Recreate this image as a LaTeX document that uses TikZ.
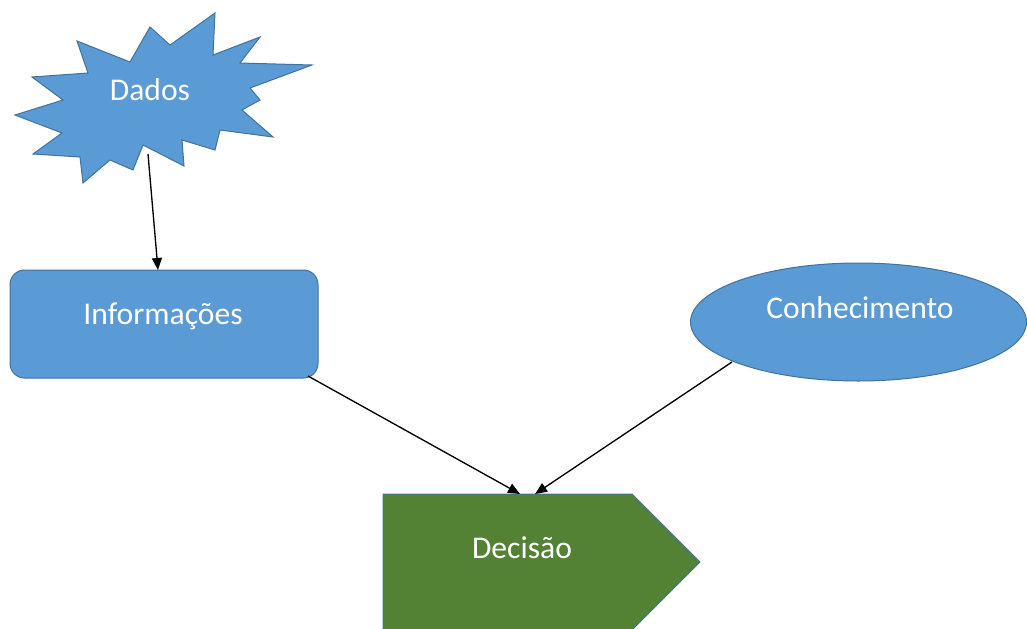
\documentclass[tikz,border=0pt]{standalone}
\usepackage{fontspec}
\setmainfont{Carlito}
\usetikzlibrary{arrows.meta,shapes.geometric}
\definecolor{fillblue}{HTML}{5B9BD5}
\definecolor{lineblue}{HTML}{41719C}
\definecolor{fillgreen}{HTML}{548235}
\tikzset{
  shapeblue/.style={fill=fillblue,draw=lineblue,line width=0.75pt},
  shapegreen/.style={fill=fillgreen,draw=lineblue,line width=0.75pt},
  label/.style={text=white,font=\fontsize{23.7}{28}\selectfont,anchor=base,inner sep=0pt},
  conn/.style={draw=black,line width=1pt,-{Triangle[length=9pt,width=7.5pt]}}
}
\begin{document}
\begin{tikzpicture}[x=0.75pt,y=-0.75pt]
\useasboundingbox (0,0) rectangle (1027,628);
% Dados star
\draw[shapeblue] (77,41) -- (130,62) -- (150,27) -- (170,45) -- (215,13) -- (213,55) -- (260,37) -- (240,63) -- (312,65) -- (250,88) -- (260,100) -- (242,110) -- (273,137) -- (220,130) -- (215,150) -- (182,140) -- (184,166) -- (143,145) -- (133,170) -- (110,160) -- (83,183) -- (80,157) -- (33,154) -- (62,133) -- (15,115) -- (63,100) -- (32,77) -- (88,73) -- cycle;
\node[label] (dados) at (150,100) {Dados};
\coordinate (dadosbot) at (148,154);
% Informacoes
\node[shapeblue,rounded corners=11pt,minimum width=231pt,minimum height=81pt,inner sep=0pt,outer sep=0pt] (info) at (164,324) {};
\node[label] (infotext) at (163,324) {Informações};
\coordinate (infotop) at (158,270);
\coordinate (infocorner) at (308,376);
% Conhecimento
\node[shapeblue,ellipse,minimum width=252pt,minimum height=88.5pt,inner sep=0pt,outer sep=0pt] (conh) at (858.5,322) {};
\node[label] (conhtext) at (860,318) {Conhecimento};
\coordinate (conhedge) at (732,362);
% Decisao
\draw[shapegreen] (383,494) -- (632,494) -- (700,562) -- (632,630) -- (383,630) -- cycle;
\node[label] (dec) at (522,558) {Decisão};
\coordinate (decA) at (520,494);
\coordinate (decB) at (535,494);
% connectors
\draw[conn] (dadosbot) -- (infotop);
\draw[conn] (infocorner) -- (decA);
\draw[conn] (conhedge) -- (decB);
\end{tikzpicture}
\end{document}
